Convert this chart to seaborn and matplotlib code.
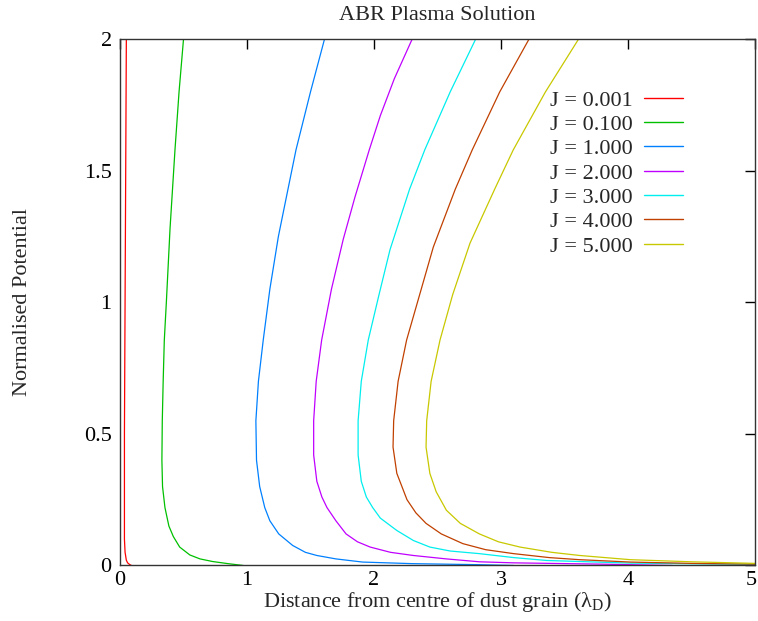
import numpy as np
import pandas as pd
import seaborn as sns
import matplotlib
matplotlib.use("Agg")
import matplotlib.pyplot as plt
import matplotlib.transforms as mtransforms

# ABR solution curves: distance (x) against potential (y)
labels = ["J = 0.001", "J = 0.100", "J = 1.000", "J = 2.000", "J = 3.000", "J = 4.000", "J = 5.000"]

pot_j0001 = [2.0, 1.5, 1.0, 0.5, 0.2, 0.1, 0.05, 0.02, 0.01, 0.004, 0.0]
dist_j0001 = [0.05, 0.045, 0.04, 0.035, 0.035, 0.035, 0.04, 0.05, 0.06, 0.075, 0.09]

pot_j01 = [2.0, 1.8, 1.58, 1.28, 1.0, 0.857, 0.7, 0.55, 0.4, 0.3, 0.22, 0.15, 0.11, 0.07, 0.04, 0.025, 0.015, 0.007, 0.0]
dist_j01 = [0.50, 0.465, 0.433, 0.394, 0.365, 0.349, 0.34, 0.333, 0.33, 0.335, 0.354, 0.385, 0.42, 0.47, 0.55, 0.63, 0.73, 0.85, 0.97]

pot_j1 = [2.0, 1.8, 1.58, 1.4, 1.25, 1.05, 0.857, 0.7, 0.55, 0.4, 0.3, 0.22, 0.17, 0.12, 0.076, 0.05, 0.038, 0.025, 0.013, 0.007, 0.003, 0.0]
dist_j1 = [1.61, 1.50, 1.386, 1.31, 1.247, 1.18, 1.128, 1.09, 1.07, 1.075, 1.10, 1.14, 1.18, 1.25, 1.36, 1.46, 1.55, 1.70, 1.91, 2.3, 2.83, 3.1]

pot_j2 = [2.0, 1.85, 1.71, 1.58, 1.4, 1.24, 1.05, 0.857, 0.7, 0.55, 0.42, 0.32, 0.26, 0.22, 0.17, 0.12, 0.09, 0.07, 0.05, 0.038, 0.025, 0.014, 0.01, 0.005, 0.0]
dist_j2 = [2.30, 2.16, 2.05, 1.963, 1.85, 1.758, 1.665, 1.588, 1.545, 1.525, 1.525, 1.55, 1.59, 1.63, 1.70, 1.78, 1.87, 1.97, 2.13, 2.31, 2.57, 2.83, 3.1, 3.8, 4.35]

pot_j3 = [2.0, 1.8, 1.58, 1.43, 1.2, 1.03, 0.857, 0.7, 0.55, 0.42, 0.32, 0.26, 0.22, 0.18, 0.133, 0.095, 0.07, 0.055, 0.045, 0.03, 0.019, 0.009, 0.004]
dist_j3 = [2.80, 2.60, 2.40, 2.28, 2.126, 2.04, 1.955, 1.90, 1.875, 1.875, 1.90, 1.94, 1.99, 2.05, 2.18, 2.31, 2.44, 2.6, 2.83, 3.1, 3.36, 4.02, 5.0]

pot_j4 = [2.0, 1.8, 1.58, 1.43, 1.21, 1.03, 0.857, 0.7, 0.55, 0.45, 0.35, 0.25, 0.2, 0.16, 0.12, 0.083, 0.06, 0.045, 0.03, 0.022, 0.013, 0.008, 0.005]
dist_j4 = [3.22, 2.99, 2.774, 2.64, 2.467, 2.36, 2.257, 2.19, 2.155, 2.15, 2.18, 2.26, 2.33, 2.41, 2.53, 2.70, 2.88, 3.10, 3.38, 3.62, 4.02, 4.5, 5.0]

pot_j5 = [2.0, 1.8, 1.58, 1.43, 1.225, 1.03, 0.857, 0.7, 0.55, 0.45, 0.35, 0.28, 0.21, 0.16, 0.12, 0.09, 0.07, 0.05, 0.038, 0.022, 0.014, 0.008]
dist_j5 = [3.61, 3.35, 3.097, 2.95, 2.756, 2.62, 2.52, 2.45, 2.415, 2.41, 2.44, 2.49, 2.57, 2.68, 2.83, 2.98, 3.15, 3.40, 3.62, 4.02, 4.5, 5.0]

x_ticks = [0, 1, 2, 3, 4, 5]
y_ticks = [0, 0.5, 1, 1.5, 2]
y_ticklabels = ["0", "0.5", "1", "1.5", "2"]

# gnuplot default line colours
colors = ["#ff0000", "#00c000", "#0080ff", "#c000ff", "#00eeee", "#c04000", "#c8c800"]

series = [(dist_j0001, pot_j0001), (dist_j01, pot_j01), (dist_j1, pot_j1), (dist_j2, pot_j2),
          (dist_j3, pot_j3), (dist_j4, pot_j4), (dist_j5, pot_j5)]
frames = []
for lab, (xs, ys) in zip(labels, series):
    frames.append(pd.DataFrame({"J": lab, "dist": xs, "pot": ys}))
df = pd.concat(frames, ignore_index=True)

sns.set_theme(style="white")
plt.rcParams["font.family"] = ["Liberation Serif", "DejaVu Serif"]
plt.rcParams["mathtext.fontset"] = "custom"
plt.rcParams["mathtext.rm"] = "Liberation Serif"
plt.rcParams["mathtext.it"] = "Liberation Serif:italic"

fig = plt.figure(figsize=(7.58, 6.21), dpi=100)
ax = fig.add_axes([0.1583, 0.0894, 0.8377, 0.8473])

sns.lineplot(data=df, x="dist", y="pot", hue="J", palette=colors, sort=False,
             estimator=None, linewidth=0.9, ax=ax, legend=True)

ax.set_xlim(0, 5)
ax.set_ylim(0, 2)
ax.set_xticks(x_ticks)
ax.set_xticklabels([str(t) for t in x_ticks])
ax.set_yticks(y_ticks)
ax.set_yticklabels(y_ticklabels)
ax.tick_params(direction="in", length=7, width=1, top=True, right=True,
               labelsize=16, colors="black", pad=6)
ax.tick_params(axis="x", pad=4)
for sp in ax.spines.values():
    sp.set_color("#333333")
    sp.set_linewidth(1.0)

# nudge the last x tick label so it stays inside the canvas
last = ax.get_xticklabels()[-1]
last.set_transform(last.get_transform() + mtransforms.ScaledTranslation(-4 / 100, 0, fig.dpi_scale_trans))

ax.set_title("ABR Plasma Solution", fontsize=16, pad=14)
ax.set_xlabel("Distance from centre of dust grain (λ$_\\mathrm{D}$)", fontsize=16, labelpad=0)
ax.set_ylabel("Normalised Potential", fontsize=16, labelpad=37)

handles, _ = ax.get_legend_handles_labels()
leg = ax.legend(handles=handles, labels=labels, loc="upper right", frameon=False,
                markerfirst=False, fontsize=16, handlelength=1.75, handletextpad=0.5,
                labelspacing=0.17, borderaxespad=0, borderpad=0,
                bbox_to_anchor=((683 - 120) / 635, (565.5 - 90) / 526.2))
for h in leg.get_lines():
    h.set_linewidth(1.0)

fig.savefig("out.png", dpi=100)
